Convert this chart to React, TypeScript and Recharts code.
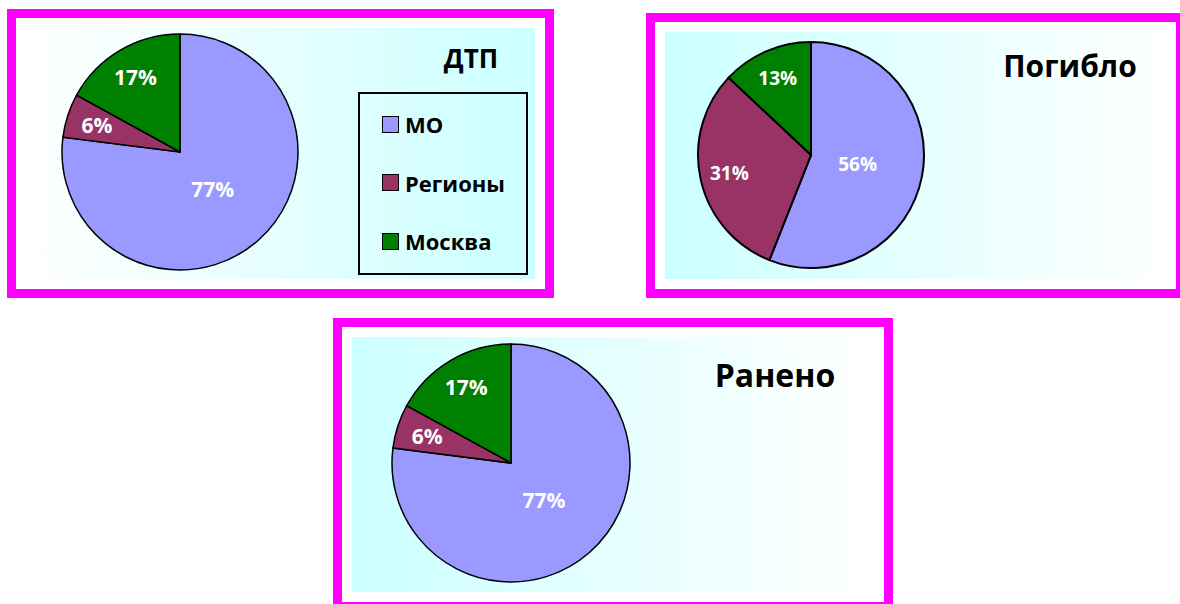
import { PieChart, Pie, Cell, Legend } from "recharts";

const CATEGORIES = ["МО", "Регионы", "Москва"];
const COLORS = ["#9999ff", "#993366", "#008000"];
const DTP_VALUES = [77, 6, 17];
const KILLED_VALUES = [56, 31, 13];
const INJURED_VALUES = [77, 6, 17];
const TITLES = ["ДТП", "Погибло", "Ранено"];

const FONT = "'Open Sans', 'Noto Sans', sans-serif";
const RADIAN = Math.PI / 180;
const BORDER = 9;

const toData = (values: number[]) => CATEGORIES.map((name, i) => ({ name, value: values[i] }));

function makeLabel(fontSize: number) {
  return (props: any) => {
    const { cx, cy, midAngle, outerRadius, percent, value } = props;
    // big slice label sits near the centre, small ones further out
    const r = outerRadius * (percent > 0.5 ? 0.42 : 0.74);
    const x = cx + r * Math.cos(-midAngle * RADIAN);
    const y = cy + r * Math.sin(-midAngle * RADIAN);
    return (
      <text
        x={x}
        y={y}
        fill="#fff"
        textAnchor="middle"
        dominantBaseline="central"
        fontSize={fontSize}
        fontWeight={700}
        fontFamily={FONT}
      >
        {`${value}%`}
      </text>
    );
  };
}

function LegendBox(props: any) {
  const payload = [...(props.payload ?? [])].sort(
    (a: any, b: any) => CATEGORIES.indexOf(a.value) - CATEGORIES.indexOf(b.value)
  );
  return (
    <div
      style={{
        boxSizing: "border-box",
        width: 170,
        height: 183,
        border: "2px solid #000",
        paddingTop: 1,
        fontFamily: FONT,
        fontWeight: 700,
        fontSize: 22,
        color: "#000",
      }}
    >
      {payload.map((entry: any) => (
        <div key={entry.value} style={{ display: "flex", alignItems: "center", height: 58.5 }}>
          <span
            style={{
              boxSizing: "border-box",
              display: "inline-block",
              width: 17,
              height: 17,
              marginLeft: 22,
              marginRight: 6,
              border: "1.5px solid #000",
              background: entry.color,
            }}
          />
          <span style={{ lineHeight: 1 }}>{entry.value}</span>
        </div>
      ))}
    </div>
  );
}

interface PanelProps {
  left: number;
  top: number;
  width: number;
  height: number;
  grad: { left: number; top: number; width: number; height: number; dir: string };
  values: number[];
  cx: number;
  cy: number;
  radius: number;
  strokeWidth: number;
  labelSize: number;
  title: string;
  titleX: number;
  titleY: number;
  titleSize: number;
  legend?: boolean;
}

function Panel(p: PanelProps) {
  const innerW = p.width - BORDER * 2;
  const innerH = p.height - BORDER * 2;
  return (
    <div
      style={{
        position: "absolute",
        left: p.left,
        top: p.top,
        width: p.width,
        height: p.height,
        boxSizing: "border-box",
        border: `${BORDER}px solid #ff00ff`,
        background: "#fff",
      }}
    >
      <div
        style={{
          position: "absolute",
          left: p.grad.left,
          top: p.grad.top,
          width: p.grad.width,
          height: p.grad.height,
          background: `linear-gradient(${p.grad.dir}, #ccffff 0%, #ffffff 100%)`,
        }}
      />
      <div style={{ position: "absolute", left: 0, top: 0 }}>
        <PieChart width={innerW} height={innerH} margin={{ top: 0, right: 0, bottom: 0, left: 0 }}>
          <Pie
            data={toData(p.values)}
            dataKey="value"
            nameKey="name"
            cx={p.cx}
            cy={p.cy}
            outerRadius={p.radius}
            startAngle={90}
            endAngle={-270}
            stroke="#000"
            strokeWidth={p.strokeWidth}
            labelLine={false}
            label={makeLabel(p.labelSize)}
            isAnimationActive={false}
          >
            {CATEGORIES.map((c, i) => (
              <Cell key={c} fill={COLORS[i]} />
            ))}
          </Pie>
          {p.legend && (
            <Legend
              content={<LegendBox />}
              wrapperStyle={{ position: "absolute", left: 342, top: 74, width: 170, height: 183 }}
            />
          )}
        </PieChart>
      </div>
      <div
        style={{
          position: "absolute",
          left: p.titleX,
          top: p.titleY,
          transform: "translate(-50%, -50%)",
          fontFamily: FONT,
          fontWeight: 700,
          fontSize: p.titleSize,
          lineHeight: 1,
          whiteSpace: "nowrap",
          color: "#000",
        }}
      >
        {p.title}
      </div>
    </div>
  );
}

export default function App() {
  return (
    <div
      style={{
        position: "absolute",
        left: 0,
        top: 0,
        width: 1180,
        height: 604,
        overflow: "hidden",
        background: "#fff",
      }}
    >
      <Panel
        left={7}
        top={9}
        width={547}
        height={289}
        grad={{ left: 9, top: 10, width: 510, height: 251, dir: "to left" }}
        values={DTP_VALUES}
        cx={164}
        cy={134}
        radius={118}
        strokeWidth={1.5}
        labelSize={21}
        title={TITLES[0]}
        titleX={455}
        titleY={40}
        titleSize={26}
        legend
      />
      <Panel
        left={646}
        top={13}
        width={539}
        height={285}
        grad={{ left: 10, top: 10, width: 505, height: 247, dir: "to right" }}
        values={KILLED_VALUES}
        cx={156}
        cy={133}
        radius={113}
        strokeWidth={2}
        labelSize={19}
        title={TITLES[1]}
        titleX={415}
        titleY={44}
        titleSize={30}
      />
      <Panel
        left={333}
        top={318}
        width={560}
        height={293}
        grad={{ left: 10, top: 10, width: 518, height: 255, dir: "to right" }}
        values={INJURED_VALUES}
        cx={169}
        cy={136}
        radius={119}
        strokeWidth={1.5}
        labelSize={21}
        title={TITLES[2]}
        titleX={433}
        titleY={48}
        titleSize={32}
      />
    </div>
  );
}
